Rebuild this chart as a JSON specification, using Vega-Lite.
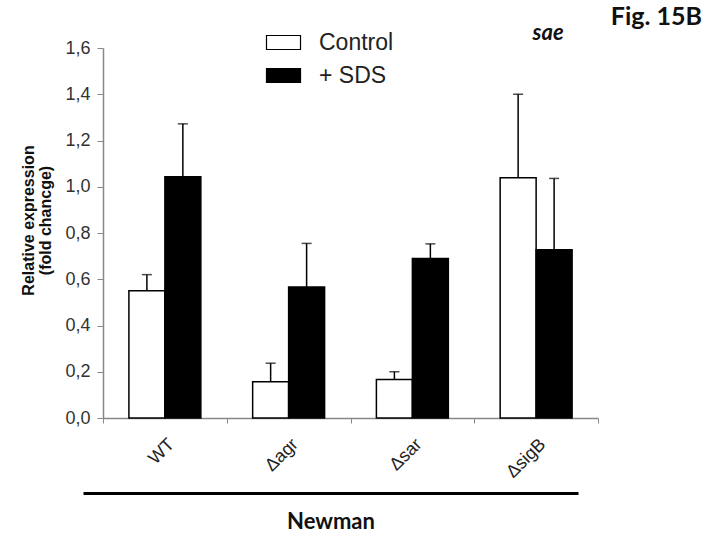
{
  "$schema": "https://vega.github.io/schema/vega-lite/v6.json",
  "width": 495,
  "height": 370,
  "autosize": {"type": "none"},
  "padding": {"left": 103, "top": 48, "right": 105, "bottom": 115},
  "background": "white",
  "title": {"text": "Fig. 15B", "anchor": "end", "frame": "group", "orient": "top", "font": "Lato", "fontWeight": "bold", "fontSize": 25, "color": "#111111", "dx": 104, "dy": 16, "offset": 8},
  "config": {
    "view": {"stroke": null},
    "axis": {"grid": false, "labelFont": "Liberation Sans", "titleFont": "Liberation Sans"},
    "legend": {"labelFont": "Liberation Sans"}
  },
  "data": {
    "values": [
      {"strain": "WT", "group": "Control", "value": 0.55, "err": 0.62},
      {"strain": "WT", "group": "+ SDS", "value": 1.043, "err": 1.272},
      {"strain": "Δagr", "group": "Control", "value": 0.157, "err": 0.237},
      {"strain": "Δagr", "group": "+ SDS", "value": 0.567, "err": 0.755},
      {"strain": "Δsar", "group": "Control", "value": 0.167, "err": 0.2},
      {"strain": "Δsar", "group": "+ SDS", "value": 0.69, "err": 0.753},
      {"strain": "ΔsigB", "group": "Control", "value": 1.039, "err": 1.4},
      {"strain": "ΔsigB", "group": "+ SDS", "value": 0.728, "err": 1.036}
    ]
  },
  "layer": [
    {
      "layer": [
        {
          "mark": {"type": "bar", "stroke": "black", "strokeWidth": 1.5},
          "encoding": {
            "x": {
              "field": "strain", "type": "nominal", "title": null,
              "scale": {"domain": ["WT", "Δagr", "Δsar", "ΔsigB"], "paddingInner": 0, "paddingOuter": 0},
              "axis": {
                "domainColor": "#888888", "domainWidth": 1.5, "tickColor": "#888888", "tickSize": 5, "tickBand": "extent",
                "labelAngle": -45, "labelFontSize": 18, "labelColor": "#222222", "labelPadding": 12
              }
            },
            "xOffset": {"field": "group", "type": "nominal", "scale": {"domain": ["Control", "+ SDS"], "paddingInner": 0, "paddingOuter": 0.72}},
            "y": {
              "field": "value", "type": "quantitative", "title": ["Relative expression", "(fold chancge)"],
              "scale": {"domain": [0, 1.6], "nice": false},
              "axis": {
                "values": [0, 0.2, 0.4, 0.6, 0.8, 1.0, 1.2, 1.4, 1.6],
                "labelExpr": "replace(format(datum.value, '.1f'), '.', ',')",
                "domainColor": "#888888", "domainWidth": 1.5, "tickColor": "#888888", "tickSize": 6,
                "labelFontSize": 18, "labelColor": "#333333", "labelPadding": 7,
                "titleFontSize": 16, "titleFontWeight": "bold", "titleColor": "#111111", "titlePadding": 11, "titleLineHeight": 17, "titleY": 172
              }
            },
            "fill": {
              "field": "group", "type": "nominal",
              "scale": {"domain": ["Control", "+ SDS"], "range": ["white", "black"]},
              "legend": {
                "title": null, "orient": "none", "legendX": 169, "legendY": -17, "padding": 0,
                "symbolType": "M-2.43,-1H2.43V1H-2.43Z", "symbolSize": 196, "symbolStrokeColor": "black", "symbolStrokeWidth": 1.2,
                "labelFontSize": 23, "labelColor": "#222222", "labelOffset": 24, "rowPadding": 9
              }
            }
          }
        },
        {
          "mark": {"type": "rule", "stroke": "black", "strokeWidth": 1.5},
          "encoding": {
            "x": {"field": "strain", "type": "nominal", "title": null},
            "xOffset": {"field": "group", "type": "nominal"},
            "y": {"field": "value", "type": "quantitative", "title": ["Relative expression", "(fold chancge)"]},
            "y2": {"field": "err"}
          }
        },
        {
          "mark": {"type": "tick", "color": "black", "thickness": 1.5, "size": 10},
          "encoding": {
            "x": {"field": "strain", "type": "nominal", "title": null},
            "xOffset": {"field": "group", "type": "nominal"},
            "y": {"field": "err", "type": "quantitative", "title": ["Relative expression", "(fold chancge)"]}
          }
        },
        {
          "data": {"values": [{"label": "sae", "strain": "ΔsigB", "pos": 1.635}]},
          "mark": {"type": "text", "font": "Lato", "fontWeight": "bold", "fontStyle": "italic", "fontSize": 22, "color": "#111111", "dx": 12, "baseline": "alphabetic"},
          "encoding": {
            "x": {"field": "strain", "type": "nominal", "title": null},
            "y": {"field": "pos", "type": "quantitative", "title": ["Relative expression", "(fold chancge)"]},
            "text": {"field": "label"}
          }
        }
      ]
    },
    {
      "mark": {"type": "point", "opacity": 0},
      "encoding": {
        "x": {
          "field": "strain", "type": "nominal",
          "scale": {"domain": ["WT", "Δagr", "Δsar", "ΔsigB"], "paddingInner": 0, "paddingOuter": 0},
          "axis": {
            "orient": "bottom", "offset": 75, "position": -20, "domainColor": "black", "domainWidth": 3,
            "ticks": false, "labels": false, "title": "Newman",
            "titleFont": "Lato", "titleFontWeight": "bold", "titleFontSize": 22, "titleColor": "#111111", "titlePadding": 18
          }
        }
      }
    }
  ],
  "resolve": {"scale": {"x": "independent"}}
}
